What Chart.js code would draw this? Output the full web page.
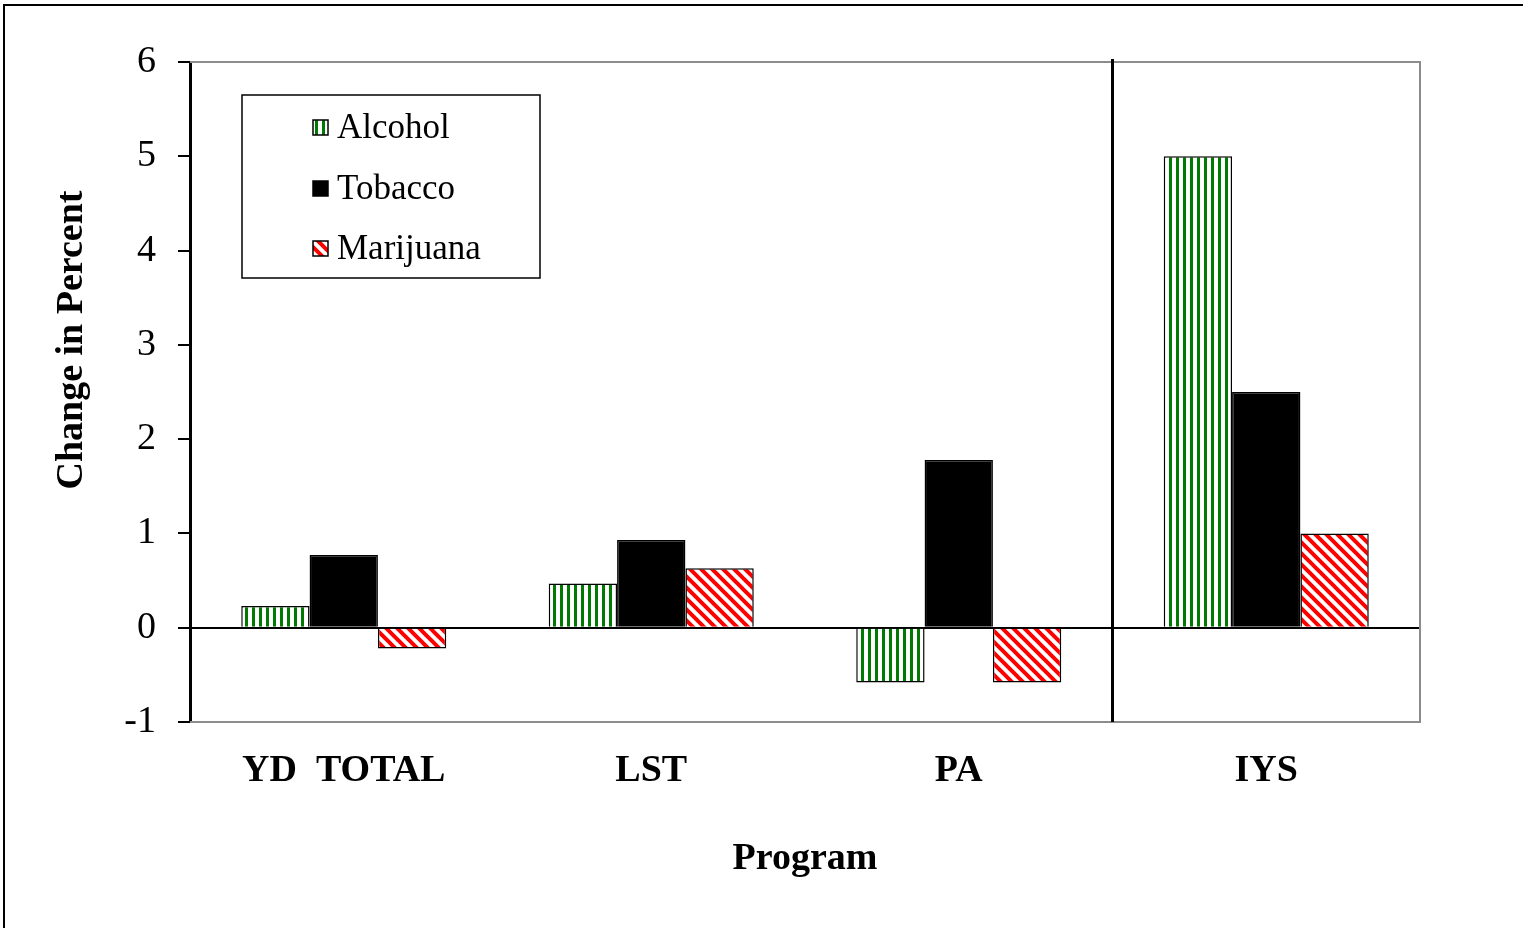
<!DOCTYPE html>
<html>
<head>
<meta charset="utf-8">
<script src="https://cdn.jsdelivr.net/npm/chart.js@4.4.0/dist/chart.umd.min.js"></script>
<style>
  body { margin: 0; background: #fff; }
  canvas { display: block; }
</style>
</head>
<body>
<canvas id="chartCanvas" width="1523" height="928"></canvas>
<script>
// Programs on the x axis
var programs = ["YD  TOTAL", "LST", "PA", "IYS"];

// Change in percent per substance
var alcoholValues = [0.23, 0.47, -0.58, 5.0];
var tobaccoValues = [0.77, 0.93, 1.78, 2.5];
var marijuanaValues = [-0.22, 0.63, -0.58, 1.0];

var yTicks = [-1, 0, 1, 2, 3, 4, 5, 6];

var serif = "'Liberation Serif', 'Times New Roman', serif";

// fill patterns like the old Excel ones
function stripePattern() {
  var c = document.createElement("canvas");
  c.width = 7; c.height = 7;
  var g = c.getContext("2d");
  g.fillStyle = "#fff";
  g.fillRect(0, 0, 7, 7);
  g.fillStyle = "#007a00";
  g.fillRect(0, 0, 3, 7);
  return g.createPattern(c, "repeat");
}

function diagPattern() {
  var s = 11;
  var c = document.createElement("canvas");
  c.width = s; c.height = s;
  var g = c.getContext("2d");
  g.fillStyle = "#fff";
  g.fillRect(0, 0, s, s);
  g.strokeStyle = "#ff0000";
  g.lineWidth = 4;
  g.beginPath();
  g.moveTo(-s, -s); g.lineTo(2 * s, 2 * s);
  g.moveTo(-s, 0); g.lineTo(s, 2 * s);
  g.moveTo(0, -s); g.lineTo(2 * s, s);
  g.stroke();
  return g.createPattern(c, "repeat");
}

var alcoholFill = stripePattern();
var marijuanaFill = diagPattern();

var extras = {
  id: "extras",
  beforeDraw: function (chart) {
    var ctx = chart.ctx;
    ctx.save();
    ctx.fillStyle = "#fff";
    ctx.fillRect(0, 0, chart.width, chart.height);
    ctx.strokeStyle = "#000";
    ctx.lineWidth = 2;
    ctx.strokeRect(4, 5, chart.width + 20, chart.height + 20);
    ctx.restore();
  },
  beforeDatasetsDraw: function (chart) {
    var ctx = chart.ctx, a = chart.chartArea;
    ctx.save();
    ctx.strokeStyle = "#8c8c8c";
    ctx.lineWidth = 2;
    ctx.beginPath();
    ctx.moveTo(a.left, a.top);
    ctx.lineTo(a.right, a.top);
    ctx.lineTo(a.right, a.bottom);
    ctx.lineTo(a.left, a.bottom);
    ctx.stroke();
    ctx.restore();
  },
  afterDatasetsDraw: function (chart) {
    var ctx = chart.ctx, a = chart.chartArea;
    var x = chart.scales.x;
    ctx.save();
    // separator between PA and IYS
    var sx = (x.getPixelForValue(2) + x.getPixelForValue(3)) / 2;
    ctx.strokeStyle = "#000";
    ctx.lineWidth = 3;
    ctx.beginPath();
    ctx.moveTo(sx, a.top - 3);
    ctx.lineTo(sx, a.bottom);
    ctx.stroke();

    // y title
    ctx.fillStyle = "#000";
    ctx.font = "bold 38px " + serif;
    ctx.textAlign = "center";
    ctx.textBaseline = "middle";
    ctx.translate(72, 340);
    ctx.rotate(-Math.PI / 2);
    ctx.fillText("Change in Percent", 0, 0);
    ctx.restore();

    // legend box
    ctx.save();
    ctx.fillStyle = "#fff";
    ctx.fillRect(242, 95, 298, 183);
    ctx.strokeStyle = "#000";
    ctx.lineWidth = 1.5;
    ctx.strokeRect(242, 95, 298, 183);
    var rows = [128, 189, 249];
    chart.data.datasets.forEach(function (ds, i) {
      var y = rows[i];
      ctx.fillStyle = ds.backgroundColor;
      ctx.fillRect(313, y - 8, 15, 15);
      ctx.lineWidth = 1.5;
      ctx.strokeStyle = "#000";
      ctx.strokeRect(313, y - 8, 15, 15);
      ctx.fillStyle = "#000";
      ctx.font = "35px " + serif;
      ctx.textAlign = "left";
      ctx.textBaseline = "middle";
      ctx.fillText(ds.label, 337, y + 1);
    });
    ctx.restore();
  }
};

var ctx = document.getElementById("chartCanvas").getContext("2d");
var chart = new Chart(ctx, {
  type: "bar",
  data: {
    labels: programs,
    datasets: [
      {
        label: "Alcohol",
        data: alcoholValues,
        backgroundColor: alcoholFill,
        borderColor: "#000",
        borderWidth: 1.5,
      },
      {
        label: "Tobacco",
        data: tobaccoValues,
        backgroundColor: "#000",
        borderColor: "#000",
        borderWidth: 1.5,
      },
      {
        label: "Marijuana",
        data: marijuanaValues,
        backgroundColor: marijuanaFill,
        borderColor: "#000",
        borderWidth: 1.5,
      },
    ],
  },
  options: {
    responsive: false,
    animation: false,
    devicePixelRatio: 1,
    layout: { padding: { top: 62, right: 103, left: 0, bottom: 0 } },
    plugins: {
      legend: { display: false },
      tooltip: { enabled: false },
    },
    datasets: {
      bar: { categoryPercentage: 0.6667, barPercentage: 1.0 },
    },
    scales: {
      x: {
        grid: { display: false },
        border: { display: false },
        ticks: {
          color: "#000",
          padding: 18,
          font: { family: serif, size: 38, weight: "bold" },
        },
        title: {
          display: true,
          text: "Program",
          color: "#000",
          padding: { top: 0, bottom: 46 },
          font: { family: serif, size: 38, weight: "bold" },
        },
        afterFit: function (scale) { scale.height = 206; },
      },
      y: {
        min: -1,
        max: 6,
        afterBuildTicks: function (scale) {
          scale.ticks = yTicks.map(function (v) { return { value: v }; });
        },
        grid: {
          color: function (c) { return c.tick && c.tick.value === 0 ? "#000" : "rgba(0,0,0,0)"; },
          lineWidth: 2,
          tickColor: "#000",
          tickLength: 12,
        },
        border: { color: "#000", width: 3 },
        ticks: {
          color: "#000",
          padding: 22,
          font: { family: serif, size: 38 },
        },
        afterFit: function (scale) { scale.width = 190; },
      },
    },
  },
  plugins: [extras],
});
</script>
</body>
</html>
